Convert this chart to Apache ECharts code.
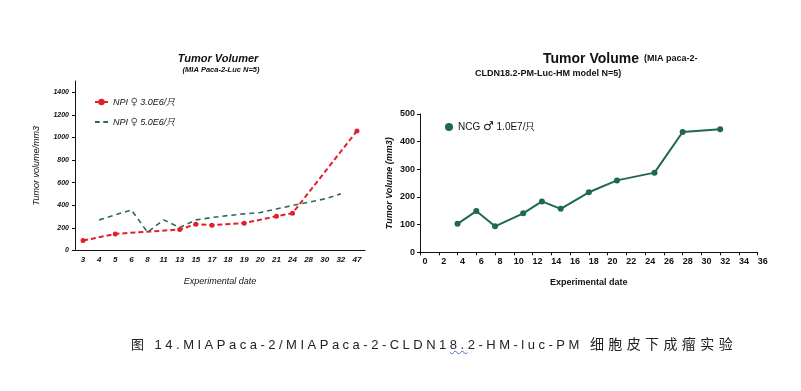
<!DOCTYPE html>
<html><head><meta charset="utf-8">
<script src="https://cdn.jsdelivr.net/npm/echarts@6/dist/echarts.min.js"></script>
<style>
body{margin:0;background:#fff}
#c{width:801px;height:391px;position:absolute;left:0;top:0}
#cap{position:absolute;left:131px;top:333px;font:13px "Liberation Sans","Noto Sans CJK SC",sans-serif;letter-spacing:3.5px;color:#222;white-space:nowrap}
#cap .w{text-decoration:underline wavy #4a6fd0;text-decoration-thickness:1px}
#cap .z{font-size:14px;letter-spacing:4.4px}
</style></head>
<body>
<div id="c"></div>
<div id="cap">图 14.MIAPaca-2/MIAPaca-2-CLDN1<span class="w">8.</span>2-HM-luc-PM <span class="z">细胞皮下成瘤实验</span></div>
<script>
// Left chart data
const leftCats = ['3','4','5','6','8','11','13','15','17','18','19','20','21','24','28','30','32','47'];
const redVals = [88,null,147,null,null,null,186,233,224,null,242,null,303,330,null,null,null,1058];
const greenVals = [null,271,null,359,162,271,203,271,292,309,324,336,368,398,427,457,501,null];
const leftYTicks = [0,200,400,600,800,1000,1200,1400];
// Right chart data
const rightDays = [4,6,8,11,13,15,18,21,25,28,32];
const rightVals = [103,149,94,141,184,157,217,260,288,435,445];

const RED = '#e2202a', GD = '#2d6b55', RG = '#1f6a4e';
const font = '"Liberation Sans", Arial, "DejaVu Sans", sans-serif';
const symFmt = n => n.replace(/([♀♂])/, '{s|$1}');
const chart = echarts.init(document.getElementById('c'));
chart.setOption({
  animation:false,
  backgroundColor:'#fff',
  textStyle:{fontFamily:font},
  title:[
    {text:'Tumor Volumer', left:213, top:48, textAlign:'center',
     textStyle:{fontSize:11, fontWeight:'bold', fontStyle:'italic', color:'#111'}},
    {text:'(MIA Paca-2-Luc N=5)', left:216, top:61, textAlign:'center',
     textStyle:{fontSize:7.5, fontWeight:'bold', fontStyle:'italic', color:'#111'}},
    {text:'{a|Tumor Volume} {b|(MIA paca-2-}', left:538, top:45,
     textStyle:{rich:{a:{fontSize:14, fontWeight:'bold', color:'#111', fontFamily:font},
                      b:{fontSize:9, fontWeight:'bold', color:'#111', fontFamily:font}}}},
    {text:'CLDN18.2-PM-Luc-HM model N=5)', left:470, top:64,
     textStyle:{fontSize:9, fontWeight:'bold', color:'#111'}}
  ],
  legend:[
    {left:89, top:92, orient:'vertical', itemGap:10, itemWidth:13, itemHeight:8,
     data:[{name:'NPI ♀ 3.0E6/只'},
           {name:'NPI ♀ 5.0E6/只', icon:'path://M0,0H4V1.6H0Z M7,0H11V1.6H7Z', itemStyle:{color:GD}}],
     formatter:symFmt,
     textStyle:{fontSize:9, fontStyle:'italic', color:'#111', fontFamily:font,
                rich:{s:{fontSize:10, fontStyle:'italic', color:'#555', fontFamily:'"DejaVu Sans"'}}}},
    {left:440, top:116, itemWidth:8, itemHeight:8,
     data:[{name:'NCG ♂ 1.0E7/只', icon:'circle'}],
     formatter:symFmt,
     textStyle:{fontSize:10, color:'#111', fontFamily:font,
                rich:{s:{fontSize:12, color:'#111', fontFamily:'"DejaVu Sans"'}}}}
  ],
  grid:[
    {left:75, right:436, top:81, bottom:140.5},
    {left:420, right:43.3, top:114, bottom:138.7}
  ],
  xAxis:[
    {type:'category', gridIndex:0, data:leftCats, boundaryGap:true,
     name:'Experimental date', nameLocation:'middle', nameGap:26,
     nameTextStyle:{fontSize:9, fontStyle:'italic', color:'#111'},
     axisLine:{lineStyle:{color:'#111'}}, axisTick:{length:3, lineStyle:{color:'#111'}},
     axisLabel:{fontSize:8, fontWeight:'bold', fontStyle:'italic', color:'#111', margin:5, interval:0}},
    {type:'value', gridIndex:1, min:0, max:36, interval:2,
     name:'Experimental date', nameLocation:'middle', nameGap:26,
     nameTextStyle:{fontSize:9, fontWeight:'bold', color:'#111'},
     splitLine:{show:false},
     axisLine:{lineStyle:{color:'#111'}}, axisTick:{length:3, lineStyle:{color:'#111'}},
     axisLabel:{fontSize:9, fontWeight:'bold', color:'#111', margin:5, padding:[0,0,0,10]}}
  ],
  yAxis:[
    {type:'value', gridIndex:0, min:0, max:1500, interval:100,
     name:'Tumor volume/mm3', nameLocation:'middle', nameGap:34,
     nameTextStyle:{fontSize:9, fontStyle:'italic', color:'#111'},
     splitLine:{show:false},
     axisLine:{show:true, lineStyle:{color:'#111'}},
     axisTick:{show:true, length:3, customValues:leftYTicks, lineStyle:{color:'#111'}},
     axisLabel:{fontSize:7, fontWeight:'bold', fontStyle:'italic', color:'#111', margin:6,
                customValues:leftYTicks, formatter:v=>String(v)}},
    {type:'value', gridIndex:1, min:0, max:500, interval:100,
     name:'Tumor Volume (mm3)', nameLocation:'middle', nameGap:26,
     nameTextStyle:{fontSize:9, fontWeight:'bold', fontStyle:'italic', color:'#111'},
     splitLine:{show:false},
     axisLine:{show:true, lineStyle:{color:'#111'}},
     axisTick:{show:true, length:3, lineStyle:{color:'#111'}},
     axisLabel:{fontSize:9, fontWeight:'bold', color:'#111', margin:5}}
  ],
  series:[
    {name:'NPI ♀ 3.0E6/只', type:'line', xAxisIndex:0, yAxisIndex:0, data:redVals, connectNulls:true,
     symbol:'circle', symbolSize:5, itemStyle:{color:RED},
     lineStyle:{color:RED, width:2, type:[5,3]}},
    {name:'NPI ♀ 5.0E6/只', type:'line', xAxisIndex:0, yAxisIndex:0, data:greenVals, connectNulls:true,
     symbol:'none', itemStyle:{color:GD},
     lineStyle:{color:GD, width:1.6, type:[5,4]}},
    {name:'NCG ♂ 1.0E7/只', type:'line', xAxisIndex:1, yAxisIndex:1,
     data:rightDays.map((d,i)=>[d,rightVals[i]]),
     symbol:'circle', symbolSize:6, itemStyle:{color:RG},
     lineStyle:{color:RG, width:2}}
  ]
});
</script>
</body></html>
